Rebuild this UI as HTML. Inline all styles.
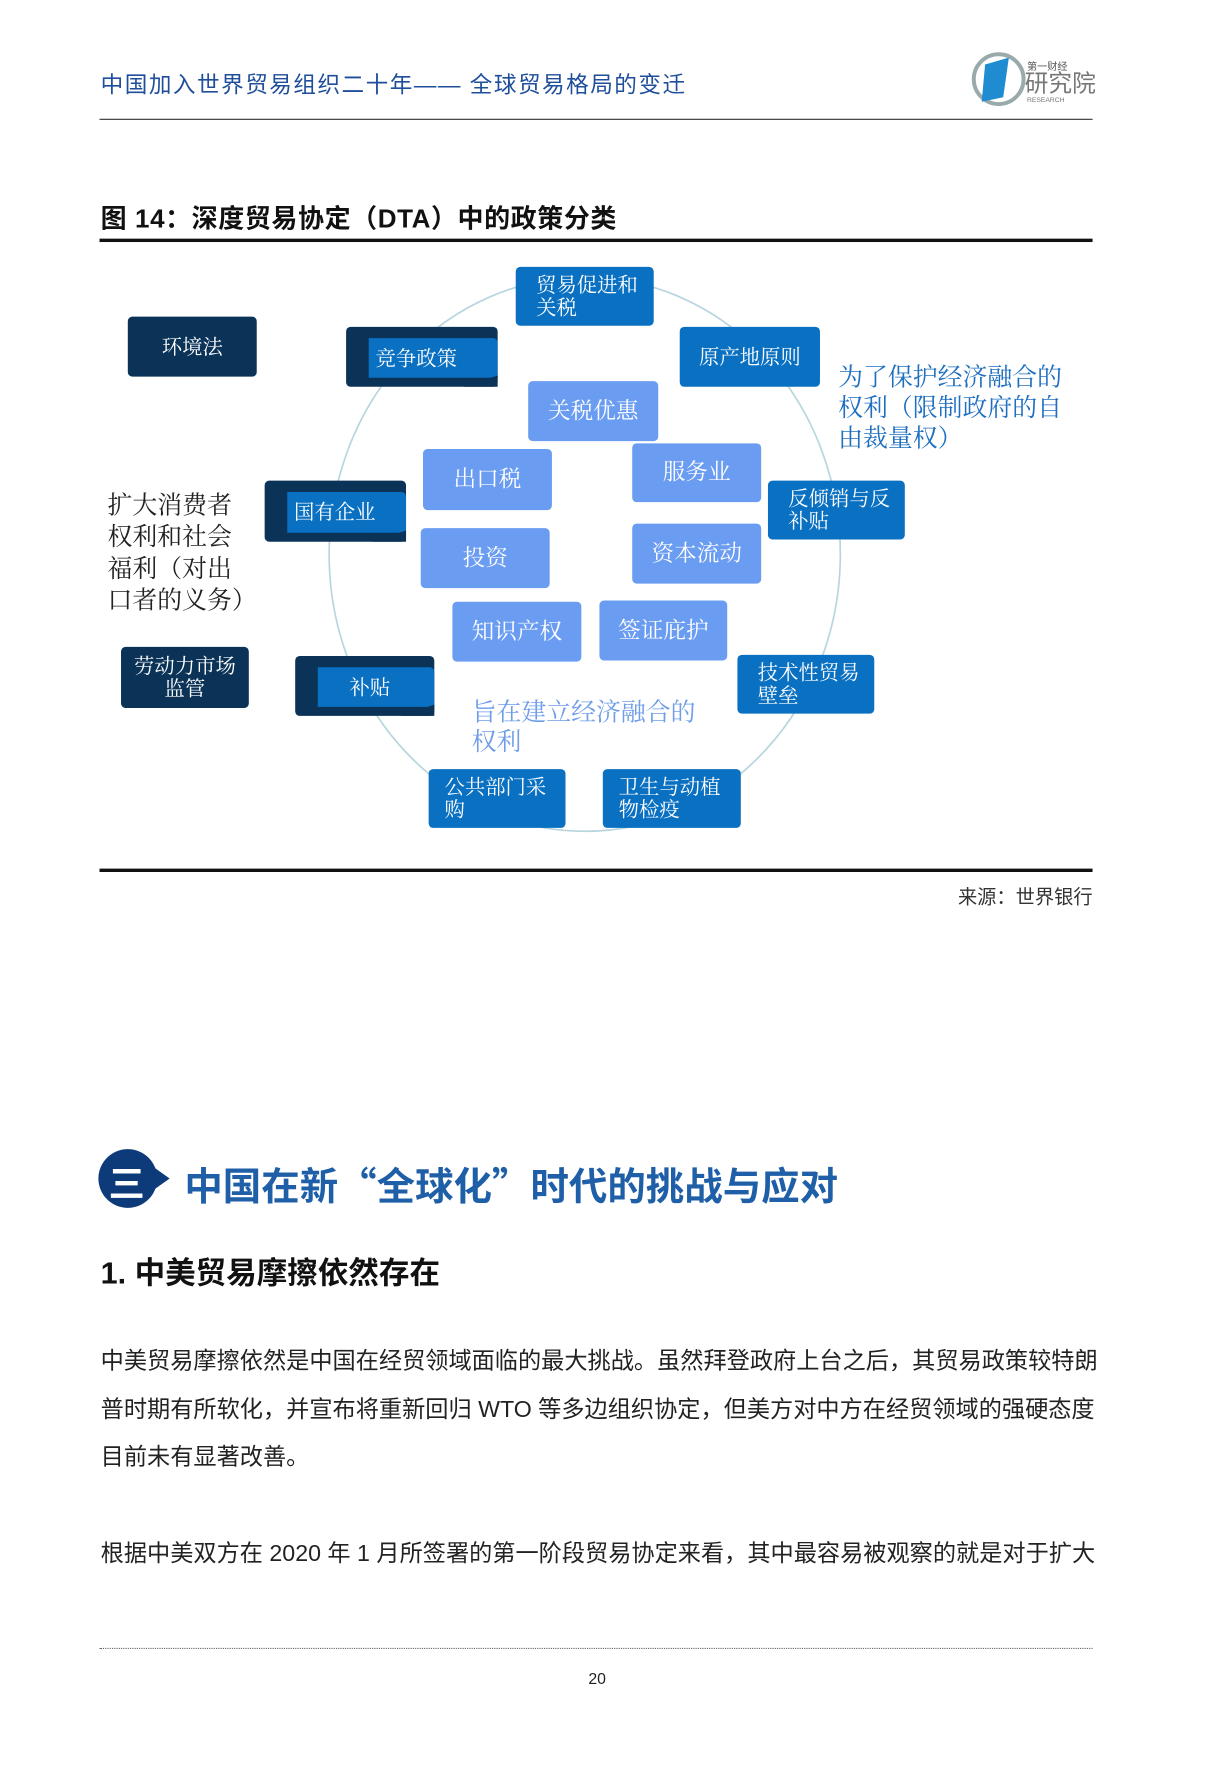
<!DOCTYPE html>
<html><head><meta charset="utf-8"><style>
html,body{margin:0;padding:0;background:#fff;}
body{width:1211px;height:1772px;overflow:hidden;position:relative;}
#p{position:absolute;left:0;top:0;width:1080px;height:1581px;transform:scale(1.131);transform-origin:0 0;font-family:"Liberation Sans","Noto Sans CJK SC",sans-serif;}
.a{position:absolute;}
.b{position:absolute;box-sizing:border-box;color:#fff;font-family:"Liberation Serif","Noto Serif CJK SC",serif;font-size:18px;line-height:20px;border-radius:4px;display:flex;align-items:center;}
.d{background:#0a70c2;}
.n{background:#0b3358;}
.l{background:#6a9cf2;justify-content:center;font-size:20px;}
.c{justify-content:center;}
.t{padding-left:18px;}
.s{background:#0b3358;}
.s i{position:absolute;left:20px;top:10px;right:0;bottom:8px;background:#0a70c2;font-style:normal;display:flex;align-items:center;padding-left:6px;border-radius:0 4px 0 0;}
.s:after{content:"";position:absolute;right:0;bottom:0;border-left:30px solid transparent;border-bottom:10px solid #0b3358;}
</style></head><body><div id="p">
<div class="a" style="left:89px;top:59px;font-size:20px;letter-spacing:1.3px;color:#1f4e9a;">中国加入世界贸易组织二十年—— 全球贸易格局的变迁</div>
<svg class="a" style="left:858px;top:44px" width="112" height="52">
<circle cx="25" cy="26" r="22" fill="none" stroke="#9aa" stroke-width="3.5"/>
<path d="M13 13 L34 7 L29 42 L10 46 Z" fill="#1f8bd0"/>
<text x="50" y="18" font-size="9" fill="#555" font-family="Noto Sans CJK SC">第一财经</text>
<text x="48" y="37" font-size="21" fill="#777" font-family="Noto Sans CJK SC">研究院</text>
<text x="50" y="46" font-size="6" fill="#777" font-family="Liberation Sans">RESEARCH</text>
</svg>
<div class="a" style="left:88px;top:105px;width:878px;height:1px;background:#333;"></div>
<div class="a" style="left:89px;top:174px;font-size:23px;font-weight:bold;color:#111;letter-spacing:0.5px;font-family:'Liberation Sans','Noto Sans CJK SC',sans-serif;">图 14：深度贸易协定（DTA）中的政策分类</div>
<div class="a" style="left:88px;top:211px;width:878px;height:3px;background:#111;"></div>

<svg class="a" style="left:0;top:0" width="1080" height="800"><ellipse cx="517" cy="490" rx="226" ry="245" fill="none" stroke="#b8d6de" stroke-width="1.5"/></svg>

<div class="b d t" style="left:456px;top:236px;width:122px;height:52px;">贸易促进和<br>关税</div>
<div class="b s" style="left:306px;top:289px;width:134px;height:53px;"><i>竞争政策</i></div>
<div class="b d c" style="left:601px;top:289px;width:124px;height:53px;">原产地原则</div>
<div class="b n c" style="left:113px;top:280px;width:114px;height:53px;">环境法</div>
<div class="b l" style="left:467px;top:337px;width:115px;height:53px;">关税优惠</div>
<div class="b l" style="left:374px;top:397px;width:114px;height:54px;">出口税</div>
<div class="b l" style="left:559px;top:392px;width:114px;height:52px;">服务业</div>
<div class="b s" style="left:234px;top:425px;width:125px;height:54px;"><i>国有企业</i></div>
<div class="b d t" style="left:679px;top:425px;width:121px;height:52px;">反倾销与反<br>补贴</div>
<div class="b l" style="left:372px;top:467px;width:114px;height:53px;">投资</div>
<div class="b l" style="left:559px;top:463px;width:114px;height:53px;">资本流动</div>
<div class="b l" style="left:400px;top:532px;width:114px;height:53px;">知识产权</div>
<div class="b l" style="left:530px;top:531px;width:113px;height:53px;">签证庇护</div>
<div class="b n c" style="left:107px;top:572px;width:113px;height:54px;text-align:center;">劳动力市场<br>监管</div>
<div class="b s" style="left:261px;top:580px;width:123px;height:53px;"><i style="padding-left:28px">补贴</i></div>
<div class="b d t" style="left:652px;top:579px;width:121px;height:52px;">技术性贸易<br>壁垒</div>
<div class="b d t" style="left:379px;top:680px;width:121px;height:52px;padding-left:14px;">公共部门采<br>购</div>
<div class="b d t" style="left:533px;top:680px;width:122px;height:52px;padding-left:14px;">卫生与动植<br>物检疫</div>

<div class="a" style="left:741px;top:320px;font-size:22px;line-height:27px;color:#1f6fc0;font-family:'Liberation Serif','Noto Serif CJK SC',serif;">为了保护经济融合的<br>权利（限制政府的自<br>由裁量权）</div>
<div class="a" style="left:95px;top:433px;font-size:22px;line-height:28px;color:#222;font-family:'Liberation Serif','Noto Serif CJK SC',serif;">扩大消费者<br>权利和社会<br>福利（对出<br>口者的义务）</div>
<div class="a" style="left:417px;top:617px;font-size:22px;line-height:26px;color:#6f9de8;font-family:'Liberation Serif','Noto Serif CJK SC',serif;">旨在建立经济融合的<br>权利</div>

<div class="a" style="left:88px;top:768px;width:878px;height:3px;background:#111;"></div>
<div class="a" style="right:114px;top:779px;font-size:17px;color:#333;">来源：世界银行</div>

<svg class="a" style="left:86px;top:1014px" width="70" height="56"><circle cx="27" cy="28" r="26" fill="#0d3a78"/><polygon points="50,18 64,28 50,38" fill="#0d3a78"/></svg>
<div class="a" style="left:96px;top:1022px;font-size:32px;font-weight:bold;color:#fff;">三</div>
<div class="a" style="left:163px;top:1022px;font-size:34px;font-weight:bold;color:#1f5fa8;font-family:'Noto Sans CJK SC',sans-serif;">中国在新“全球化”时代的挑战与应对</div>
<div class="a" style="left:89px;top:1104px;font-size:27px;font-weight:bold;color:#111;">1. 中美贸易摩擦依然存在</div>
<div class="a" style="left:89px;top:1183px;width:900px;font-size:20.5px;line-height:42.5px;color:#222;white-space:nowrap;">中美贸易摩擦依然是中国在经贸领域面临的最大挑战。虽然拜登政府上台之后，其贸易政策较特朗<br>普时期有所软化，并宣布将重新回归 WTO 等多边组织协定，但美方对中方在经贸领域的强硬态度<br>目前未有显著改善。</div>
<div class="a" style="left:89px;top:1353px;width:900px;font-size:20.5px;line-height:42px;color:#222;white-space:nowrap;">根据中美双方在 2020 年 1 月所签署的第一阶段贸易协定来看，其中最容易被观察的就是对于扩大</div>
<div class="a" style="left:88px;top:1457px;width:878px;border-top:1px dotted #666;"></div>
<div class="a" style="left:0;width:1056px;text-align:center;top:1476px;font-size:14px;color:#222;">20</div>
</div></body></html>
